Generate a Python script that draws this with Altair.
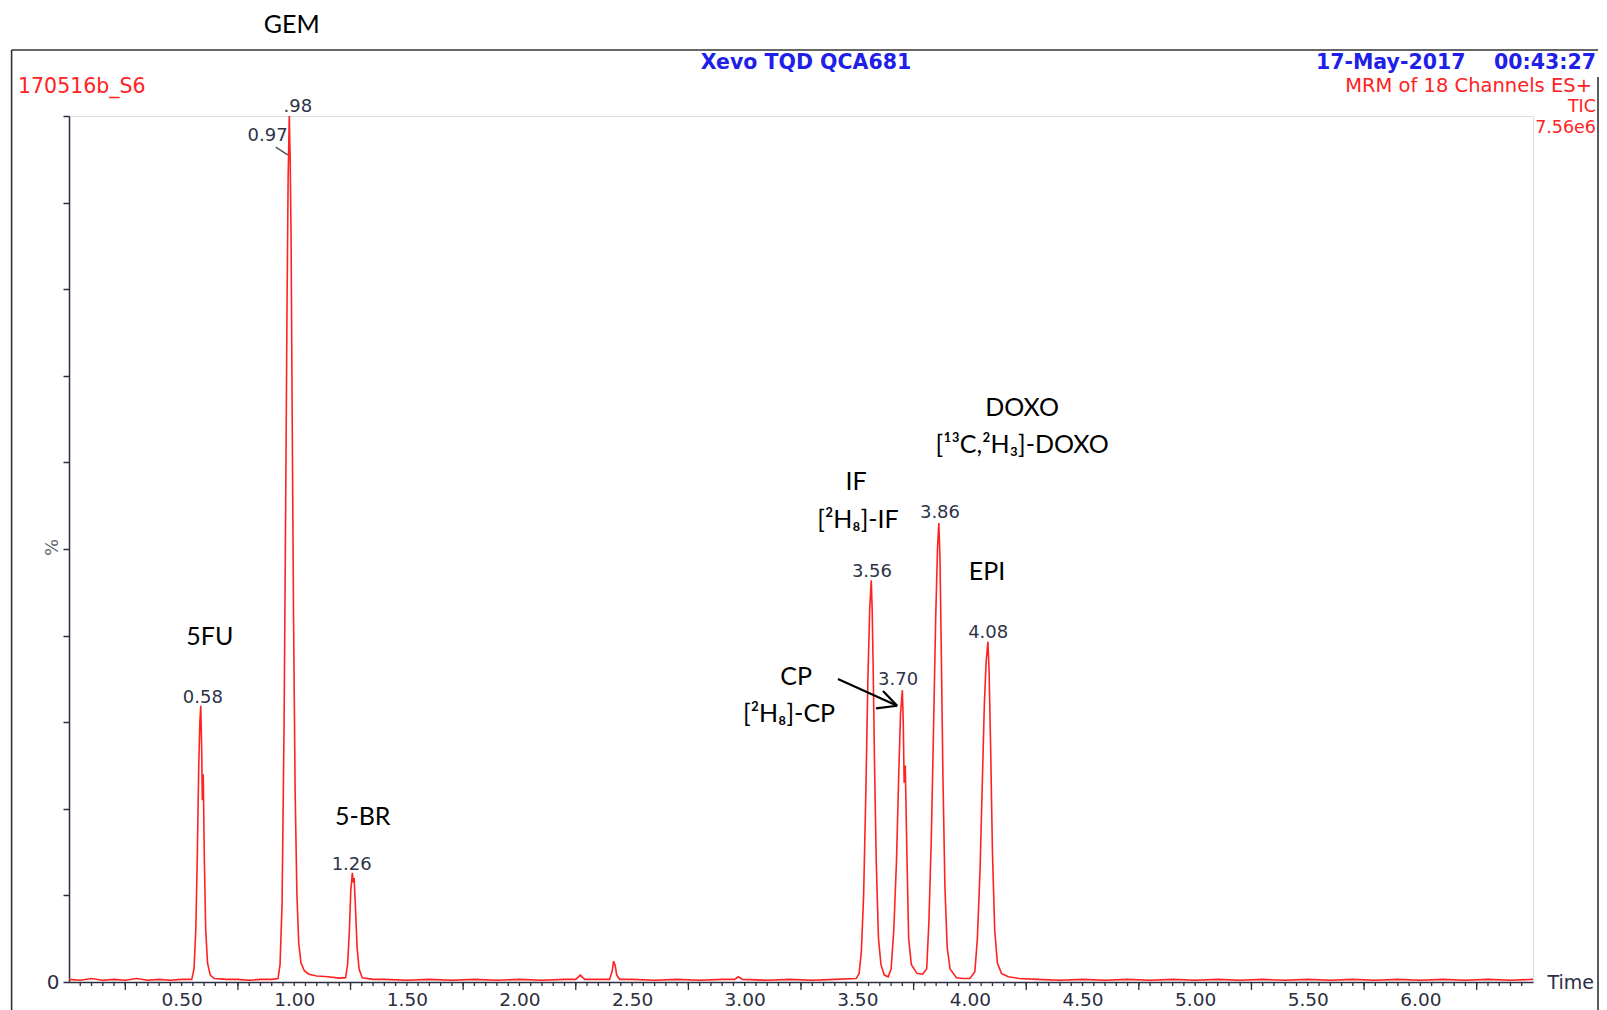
import altair as alt
import pandas as pd

# ---------------- data ----------------
trace_time = [
    0.00, 0.05, 0.10, 0.15, 0.20, 0.25, 0.30, 0.35, 0.40, 0.45, 0.50, 0.545,
    0.555, 0.563, 0.570, 0.576, 0.581, 0.585, 0.589, 0.592, 0.596, 0.601, 0.607, 0.615, 0.627, 0.645,
    0.70, 0.75, 0.80, 0.85, 0.90, 0.928,
    0.937, 0.946, 0.955, 0.962, 0.968, 0.973, 0.978, 0.982, 0.986, 0.991, 0.997, 1.004, 1.012, 1.020,
    1.030, 1.045, 1.065, 1.10, 1.15, 1.20, 1.228,
    1.237, 1.245, 1.251, 1.258, 1.262, 1.266, 1.272, 1.279, 1.288, 1.302, 1.35,
    1.40, 1.50, 1.60, 1.70, 1.80, 1.90, 2.00, 2.10, 2.20, 2.25, 2.27, 2.29, 2.35, 2.40,
    2.412, 2.418, 2.425, 2.432, 2.445, 2.50, 2.60, 2.70, 2.80, 2.90, 2.955, 2.972, 2.99,
    3.10, 3.20, 3.30, 3.40, 3.495,
    3.508, 3.518, 3.528, 3.538, 3.547, 3.555, 3.562, 3.566, 3.570, 3.576, 3.584, 3.594, 3.605, 3.620, 3.637, 3.650,
    3.662, 3.674, 3.684, 3.692, 3.700, 3.704, 3.708, 3.713, 3.720, 3.728, 3.740, 3.765, 3.790, 3.808,
    3.818, 3.829, 3.839, 3.848, 3.856, 3.862, 3.867, 3.873, 3.880, 3.889, 3.899, 3.912, 3.94, 3.97, 4.00, 4.022,
    4.033, 4.045, 4.055, 4.064, 4.072, 4.080, 4.085, 4.092, 4.100, 4.110, 4.122, 4.14, 4.17, 4.22,
    4.30, 4.40, 4.50, 4.60, 4.70, 4.80, 4.90, 5.00, 5.10, 5.20, 5.30, 5.40, 5.50, 5.60, 5.70,
    5.80, 5.90, 6.00, 6.10, 6.20, 6.30, 6.40, 6.50,
]
trace_pct = [
    0.3, 0.2, 0.4, 0.2, 0.3, 0.2, 0.4, 0.2, 0.3, 0.2, 0.3, 0.3,
    1.5, 6, 15, 25, 30, 31.9, 27, 21, 24, 14, 6, 2.2, 0.8, 0.4,
    0.3, 0.3, 0.2, 0.3, 0.3, 0.4,
    2, 9, 30, 55, 78, 93, 100, 95, 86, 65, 42, 22, 10, 4.5,
    2.2, 1.3, 0.9, 0.7, 0.6, 0.45, 0.5,
    2, 6, 10.5, 12.6, 11.5, 12, 8.5, 4, 1.5, 0.5, 0.3,
    0.3, 0.2, 0.3, 0.2, 0.3, 0.2, 0.3, 0.2, 0.3, 0.3, 0.8, 0.3, 0.3, 0.3,
    1.3, 2.4, 1.9, 0.8, 0.3, 0.3, 0.2, 0.3, 0.2, 0.3, 0.3, 0.6, 0.3,
    0.2, 0.3, 0.2, 0.3, 0.4,
    1, 3.5, 10, 22, 35, 43, 46.4, 43, 37, 26, 14, 5, 2, 0.8, 0.6, 1.5,
    6, 14, 24, 31, 33.7, 30, 23, 25, 15, 5, 2, 1.0, 0.9, 1.5,
    7, 17, 30, 42, 50, 53, 49, 38, 24, 11, 4, 1.5, 0.5, 0.4, 0.4, 1.2,
    5, 13, 23, 32, 37, 39.3, 36, 27, 15, 6, 2.2, 1, 0.6, 0.4,
    0.3, 0.2, 0.3, 0.2, 0.3, 0.2, 0.3, 0.2, 0.3, 0.2, 0.3, 0.2, 0.3, 0.2, 0.3,
    0.2, 0.3, 0.2, 0.3, 0.2, 0.3, 0.2, 0.3,
]

peak_text = ["0.58", "0.97", ".98", "1.26", "3.56", "3.70", "3.86", "4.08"]
peak_t = [0.594, 0.882, 1.016, 1.255, 3.565, 3.681, 3.867, 4.081]
peak_p = [32.8, 97.7, 101.0, 13.5, 47.3, 34.9, 54.2, 40.3]

cmp_text = ["GEM", "5FU", "5-BR", "IF", "[²H₈]-IF", "DOXO", "[¹³C,²H₃]-DOXO", "EPI", "CP", "[²H₈]-CP"]
cmp_t = [0.989, 0.625, 1.304, 3.494, 3.503, 4.232, 4.232, 4.076, 3.228, 3.197]
cmp_p = [110.5, 39.8, 19.05, 57.7, 53.3, 66.3, 62.0, 47.3, 35.2, 30.9]

# leader line (0.97 label) and arrow (CP -> 3.70 peak), in data units
leader_t, leader_t2, leader_p, leader_p2 = [0.918], [0.971], [96.4], [95.5]
arrow_t = [3.414, 3.677, 3.677]
arrow_t2 = [3.677, 3.614, 3.583]
arrow_p = [35.0, 31.9, 31.9]
arrow_p2 = [31.9, 33.6, 31.6]

x_minor_ticks = [round(0.05 * i, 2) for i in range(1, 130)]
x_tall_ticks = [round(0.25 + 0.5 * i, 2) for i in range(13)]
x_labels = [round(0.5 * i, 2) for i in range(1, 13)]
y_ticks = [0, 10, 20, 30, 40, 50, 60, 70, 80, 90, 100]

W, H = 1464, 866
AX = "#2b2f40"
RED = "#ff2222"
BLUE = "#1f1fe8"
NUM_FONT = "DejaVu Sans"
CAL_FONT = "Lato, 'Noto Sans', sans-serif"

trace = pd.DataFrame({"t": trace_time, "p": trace_pct})
peaks = pd.DataFrame({"t": peak_t, "p": peak_p, "label": peak_text})
cmps = pd.DataFrame({"t": cmp_t, "p": cmp_p, "label": cmp_text})
leader = pd.DataFrame({"t": leader_t, "t2": leader_t2, "p": leader_p, "p2": leader_p2})
arrow = pd.DataFrame({"t": arrow_t, "t2": arrow_t2, "p": arrow_p, "p2": arrow_p2})
minor = pd.DataFrame({"t": x_minor_ticks})
tall = pd.DataFrame({"t": x_tall_ticks})

xscale = alt.Scale(domain=[0, 6.5], nice=False, zero=False)
yscale = alt.Scale(domain=[0, 100], nice=False, zero=False)

x_axis = alt.Axis(
    values=x_labels, format=".2f", ticks=False,
    labelFont=NUM_FONT, labelFontSize=18.5, labelColor=AX, labelPadding=8,
    labelOverlap=False, labelFlush=False,
    domainColor=AX, domainWidth=1.5, grid=False,
    title="Time", titleX=1478, titleY=0, titleAlign="left", titleBaseline="middle",
    titleAngle=0, titleFont=NUM_FONT, titleFontSize=19, titleFontWeight="normal", titleColor=AX,
)
y_axis = alt.Axis(
    values=y_ticks, tickSize=6, tickColor=AX, tickWidth=1.5,
    labelExpr="datum.value == 0 ? '0' : ''",
    labelFont=NUM_FONT, labelFontSize=20, labelColor=AX, labelPadding=4,
    labelOverlap=False, labelFlush=False,
    domainColor=AX, domainWidth=1.5, grid=False,
    title="%", titleX=-17, titleY=431, titleAngle=270, titleAlign="center",
    titleBaseline="middle", titleFont=NUM_FONT, titleFontSize=18,
    titleFontWeight="normal", titleColor="#666677",
)

line = alt.Chart(trace).mark_line(color=RED, strokeWidth=1.6, interpolate="linear").encode(
    x=alt.X("t:Q", scale=xscale, axis=x_axis),
    y=alt.Y("p:Q", scale=yscale, axis=y_axis),
)

minor_ticks = alt.Chart(minor).mark_rule(color=AX, strokeWidth=1.3).encode(
    x=alt.X("t:Q", scale=xscale), y=alt.value(H), y2=alt.value(H + 4)
)
tall_ticks = alt.Chart(tall).mark_rule(color=AX, strokeWidth=1.3).encode(
    x=alt.X("t:Q", scale=xscale), y=alt.value(H), y2=alt.value(H + 8)
)

peak_labels = alt.Chart(peaks).mark_text(
    font=NUM_FONT, fontSize=18, color="#2e3448", align="center", baseline="middle"
).encode(x=alt.X("t:Q", scale=xscale), y=alt.Y("p:Q", scale=yscale), text="label:N")

cmp_labels = alt.Chart(cmps).mark_text(
    font=CAL_FONT, fontSize=25, color="#000000", align="center", baseline="middle"
).encode(x=alt.X("t:Q", scale=xscale), y=alt.Y("p:Q", scale=yscale), text="label:N")

leader_rule = alt.Chart(leader).mark_rule(color="#555555", strokeWidth=1.5).encode(
    x=alt.X("t:Q", scale=xscale), x2="t2:Q", y=alt.Y("p:Q", scale=yscale), y2="p2:Q"
)
arrow_rule = alt.Chart(arrow).mark_rule(color="#000000", strokeWidth=2.2).encode(
    x=alt.X("t:Q", scale=xscale), x2="t2:Q", y=alt.Y("p:Q", scale=yscale), y2="p2:Q"
)

# ---------------- frame and instrument header ----------------
one_row = pd.DataFrame({"k": [0]})

def rule(x, x2, y, y2):
    return alt.Chart(one_row).mark_rule(color="#333333", strokeWidth=1.6).encode(
        x=alt.value(x), x2=alt.value(x2), y=alt.value(y), y2=alt.value(y2)
    )

def header(text, x, y, align, color, bold=False, size=20.5):
    df = pd.DataFrame({"txt": [text]})
    return alt.Chart(df).mark_text(
        font=NUM_FONT, fontSize=size, fontWeight="bold" if bold else "normal",
        color=color, align=align, baseline="middle",
    ).encode(x=alt.value(x), y=alt.value(y), text="txt:N")

frame = [
    rule(-57.4, -57.4, -66, 900),
    rule(-57.4, 1529, -66, -66),
    rule(1529, 1529, -39, 900),
]
headers = [
    header("Xevo TQD QCA681", 737, -53, "center", BLUE, True),
    header("17-May-2017\u00a0\u00a0\u00a0 00:43:27", 1527, -53, "right", BLUE, True),
    header("170516b_S6", -51, -29, "left", RED),
    header("MRM of 18 Channels ES+", 1523, -30, "right", RED, size=19.5),
    header("TIC", 1527, -9, "right", RED, size=17.5),
    header("7.56e6", 1527, 12, "right", RED, size=17.5),
]

chart = alt.layer(
    line, *frame, minor_ticks, tall_ticks, leader_rule, arrow_rule, peak_labels, cmp_labels, *headers
).properties(
    width=W, height=H,
    autosize=alt.AutoSizeParams(type="none"),
    padding={"left": 61, "top": 108, "right": 66, "bottom": 28},
).configure_view(strokeWidth=0).configure(background="white")

chart.save("out.html", embed_options={"renderer": "svg", "actions": False})
